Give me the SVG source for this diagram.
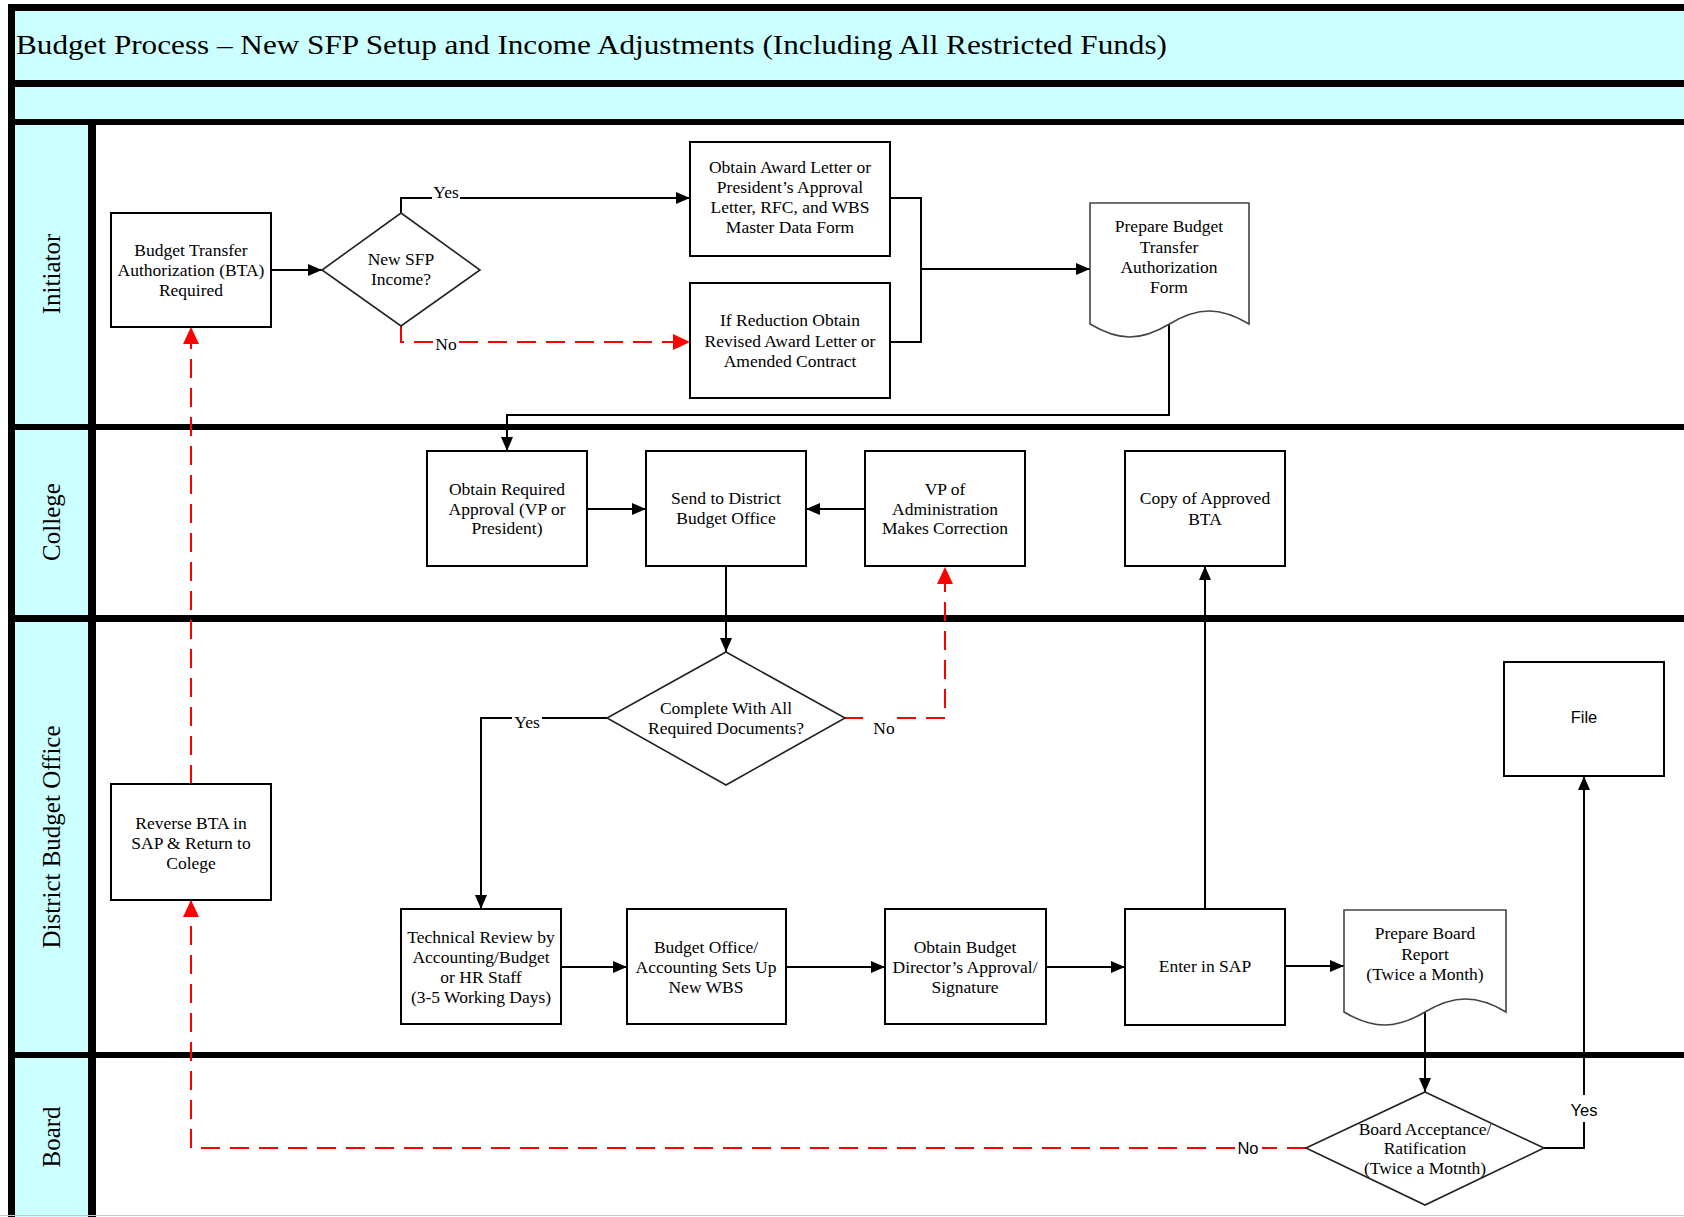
<svg xmlns="http://www.w3.org/2000/svg" width="1684" height="1217" viewBox="0 0 1684 1217">
  <style>
    .band { fill: #CCFFFF; }
    .bar { fill: #000; }
    .box { fill: #fff; stroke: #000; stroke-width: 2; }
    .dia { fill: #fff; stroke: #222; stroke-width: 1.6; }
    .doc { fill: #fff; stroke: #444; stroke-width: 1.6; }
    .t { font-family: "Liberation Serif", "Times New Roman", serif; font-size: 17.5px; fill: #000; text-anchor: middle; }
    .s { font-family: "Liberation Sans", Arial, sans-serif; font-size: 16.5px; fill: #000; text-anchor: middle; }
    .lane { font-family: "Liberation Serif", "Times New Roman", serif; font-size: 25px; fill: #000; text-anchor: middle; }
    .title { font-family: "Liberation Serif", "Times New Roman", serif; font-size: 28px; fill: #000; }
    .flow { fill: none; stroke: #000; stroke-width: 2; }
    .neg { fill: none; stroke: #f00; stroke-width: 2; stroke-dasharray: 19 10; }
  </style>
  <defs>
    <marker id="ah" markerUnits="userSpaceOnUse" markerWidth="14" markerHeight="12" refX="14" refY="6" orient="auto">
      <path d="M0,0 L14,6 L0,12 z" fill="#000" stroke="none"/>
    </marker>
    <marker id="ahr" markerUnits="userSpaceOnUse" markerWidth="17" markerHeight="16" refX="17" refY="8" orient="auto">
      <path d="M0,0 L17,8 L0,16 z" fill="#f00" stroke="none"/>
    </marker>
  </defs>

  <!-- page background -->
  <rect x="0" y="0" width="1684" height="1217" fill="#fff"/>

  <!-- swimlane frame -->
  <g id="frame">
    <rect class="band" x="15" y="11" width="1669" height="69"/>
    <rect class="band" x="15" y="87" width="1669" height="32"/>
    <rect class="band" x="15" y="125" width="73" height="1092"/>
    <rect class="bar" x="8" y="4" width="1676" height="7"/>
    <rect class="bar" x="8" y="4" width="7" height="1213"/>
    <rect class="bar" x="15" y="80" width="1669" height="7"/>
    <rect class="bar" x="15" y="119" width="1669" height="6"/>
    <rect class="bar" x="88" y="125" width="8" height="1092"/>
    <rect class="bar" x="15" y="424" width="1669" height="6"/>
    <rect class="bar" x="15" y="615" width="1669" height="7"/>
    <rect class="bar" x="15" y="1052" width="1669" height="6"/>
    <line x1="0" y1="1215.5" x2="1684" y2="1215.5" stroke="#c8c8c8" stroke-width="1"/>
    <text class="title" x="16" y="54" textLength="1151" lengthAdjust="spacingAndGlyphs">Budget Process – New SFP Setup and Income Adjustments (Including All Restricted Funds)</text>
  </g>

  <!-- lane headers -->
  <g id="lane-initiator"><text class="lane" transform="translate(60,274) rotate(-90)">Initiator</text></g>
  <g id="lane-college"><text class="lane" transform="translate(60,522) rotate(-90)">College</text></g>
  <g id="lane-district"><text class="lane" transform="translate(60,837) rotate(-90)">District Budget Office</text></g>
  <g id="lane-board"><text class="lane" transform="translate(60,1137) rotate(-90)">Board</text></g>

  <!-- connectors -->
  <g id="connectors">
    <path class="flow" d="M271,270 H322" marker-end="url(#ah)"/>
    <path class="flow" d="M401,213 V198 H432"/>
    <path class="flow" d="M460,198 H690" marker-end="url(#ah)"/>
    <path class="neg" d="M401,326 V342 H433"/>
    <path class="neg" d="M459,342 H690" marker-end="url(#ahr)"/>
    <path class="flow" d="M890,198 H921 V342 H890"/>
    <path class="flow" d="M921,269 H1090" marker-end="url(#ah)"/>
    <path class="flow" d="M1169,324 V415 H507 V451" marker-end="url(#ah)"/>
    <path class="flow" d="M587,509 H646" marker-end="url(#ah)"/>
    <path class="flow" d="M865,509 H806" marker-end="url(#ah)"/>
    <path class="flow" d="M726,566 V652" marker-end="url(#ah)"/>
    <path class="flow" d="M607,718 H542"/>
    <path class="flow" d="M512,718 H481 V909" marker-end="url(#ah)"/>
    <path class="neg" d="M845,718 H863"/>
    <path class="neg" d="M897,718 H945 V567" marker-end="url(#ahr)"/>
    <path class="flow" d="M1205,909 V566" marker-end="url(#ah)"/>
    <path class="flow" d="M561,967 H627" marker-end="url(#ah)"/>
    <path class="flow" d="M786,967 H885" marker-end="url(#ah)"/>
    <path class="flow" d="M1046,967 H1125" marker-end="url(#ah)"/>
    <path class="flow" d="M1285,966 H1344" marker-end="url(#ah)"/>
    <path class="flow" d="M1425,1012 V1092" marker-end="url(#ah)"/>
    <path class="flow" d="M1544,1148 H1584 V1122"/>
    <path class="flow" d="M1584,1095 V776" marker-end="url(#ah)"/>
    <path class="neg" d="M1306,1148 H1262"/>
    <path class="neg" d="M1235,1148 H191 V900" marker-end="url(#ahr)"/>
    <path class="neg" d="M191,784 V327" marker-end="url(#ahr)"/>
    <text class="t" x="446" y="198">Yes</text>
    <text class="t" x="446" y="350">No</text>
    <text class="t" x="527" y="728">Yes</text>
    <text class="t" x="884" y="734">No</text>
    <text class="s" x="1584" y="1116">Yes</text>
    <text class="s" x="1248" y="1154">No</text>
  </g>

  <!-- Initiator lane -->
  <g id="bta-required">
    <rect class="box" x="111" y="213" width="160" height="114"/>
    <text class="t"><tspan x="191" y="256">Budget Transfer</tspan><tspan x="191" y="276">Authorization (BTA)</tspan><tspan x="191" y="296">Required</tspan></text>
  </g>
  <g id="new-sfp-income">
    <polygon class="dia" points="401,213 480,270 401,326 322,270"/>
    <text class="t"><tspan x="401" y="265">New SFP</tspan><tspan x="401" y="285">Income?</tspan></text>
  </g>
  <g id="obtain-award-letter">
    <rect class="box" x="690" y="142" width="200" height="114"/>
    <text class="t"><tspan x="790" y="173">Obtain Award Letter or</tspan><tspan x="790" y="193">President’s Approval</tspan><tspan x="790" y="213">Letter, RFC, and WBS</tspan><tspan x="790" y="233">Master Data Form</tspan></text>
  </g>
  <g id="if-reduction">
    <rect class="box" x="690" y="283" width="200" height="115"/>
    <text class="t"><tspan x="790" y="326">If Reduction Obtain</tspan><tspan x="790" y="347">Revised Award Letter or</tspan><tspan x="790" y="367">Amended Contract</tspan></text>
  </g>
  <g id="prepare-bta-form">
    <path class="doc" d="M1090,203 H1249 V324 C1220,306.7 1198,306.7 1169.5,324 C1140.5,341.3 1119,341.3 1090,324 Z"/>
    <text class="t"><tspan x="1169" y="232">Prepare Budget</tspan><tspan x="1169" y="253">Transfer</tspan><tspan x="1169" y="273">Authorization</tspan><tspan x="1169" y="293">Form</tspan></text>
  </g>

  <!-- College lane -->
  <g id="obtain-required-approval">
    <rect class="box" x="427" y="451" width="160" height="115"/>
    <text class="t"><tspan x="507" y="495">Obtain Required</tspan><tspan x="507" y="515">Approval (VP or</tspan><tspan x="507" y="534">President)</tspan></text>
  </g>
  <g id="send-to-district">
    <rect class="box" x="646" y="451" width="160" height="115"/>
    <text class="t"><tspan x="726" y="504">Send to District</tspan><tspan x="726" y="524">Budget Office</tspan></text>
  </g>
  <g id="vp-correction">
    <rect class="box" x="865" y="451" width="160" height="115"/>
    <text class="t"><tspan x="945" y="495">VP of</tspan><tspan x="945" y="515">Administration</tspan><tspan x="945" y="534">Makes Correction</tspan></text>
  </g>
  <g id="copy-approved-bta">
    <rect class="box" x="1125" y="451" width="160" height="115"/>
    <text class="t"><tspan x="1205" y="504">Copy of Approved</tspan><tspan x="1205" y="525">BTA</tspan></text>
  </g>

  <!-- District Budget Office lane -->
  <g id="complete-documents">
    <polygon class="dia" points="726,652 845,718 726,785 607,718"/>
    <text class="t"><tspan x="726" y="714">Complete With All</tspan><tspan x="726" y="734">Required Documents?</tspan></text>
  </g>
  <g id="reverse-bta">
    <rect class="box" x="111" y="784" width="160" height="116"/>
    <text class="t"><tspan x="191" y="829">Reverse BTA in</tspan><tspan x="191" y="849">SAP &amp; Return to</tspan><tspan x="191" y="869">Colege</tspan></text>
  </g>
  <g id="file">
    <rect class="box" x="1504" y="662" width="160" height="114"/>
    <text class="s" x="1584" y="723">File</text>
  </g>
  <g id="technical-review">
    <rect class="box" x="401" y="909" width="160" height="115"/>
    <text class="t"><tspan x="481" y="943">Technical Review by</tspan><tspan x="481" y="963">Accounting/Budget</tspan><tspan x="481" y="983">or HR Staff</tspan><tspan x="481" y="1003">(3-5 Working Days)</tspan></text>
  </g>
  <g id="sets-up-wbs">
    <rect class="box" x="627" y="909" width="159" height="115"/>
    <text class="t"><tspan x="706" y="953">Budget Office/</tspan><tspan x="706" y="973">Accounting Sets Up</tspan><tspan x="706" y="993">New WBS</tspan></text>
  </g>
  <g id="director-approval">
    <rect class="box" x="885" y="909" width="161" height="115"/>
    <text class="t"><tspan x="965" y="953">Obtain Budget</tspan><tspan x="965" y="973">Director’s Approval/</tspan><tspan x="965" y="993">Signature</tspan></text>
  </g>
  <g id="enter-in-sap">
    <rect class="box" x="1125" y="909" width="160" height="116"/>
    <text class="t" x="1205" y="972">Enter in SAP</text>
  </g>
  <g id="prepare-board-report">
    <path class="doc" d="M1344,910 H1506 V1012 C1477,994.7 1454,994.7 1425,1012 C1396,1029.3 1373,1029.3 1344,1012 Z"/>
    <text class="t"><tspan x="1425" y="939">Prepare Board</tspan><tspan x="1425" y="960">Report</tspan><tspan x="1425" y="980">(Twice a Month)</tspan></text>
  </g>

  <!-- Board lane -->
  <g id="board-acceptance">
    <polygon class="dia" points="1425,1092 1544,1148 1425,1205 1306,1148"/>
    <text class="t"><tspan x="1425" y="1135">Board Acceptance/</tspan><tspan x="1425" y="1154">Ratification</tspan><tspan x="1425" y="1174">(Twice a Motnth)</tspan></text>
  </g>
</svg>
